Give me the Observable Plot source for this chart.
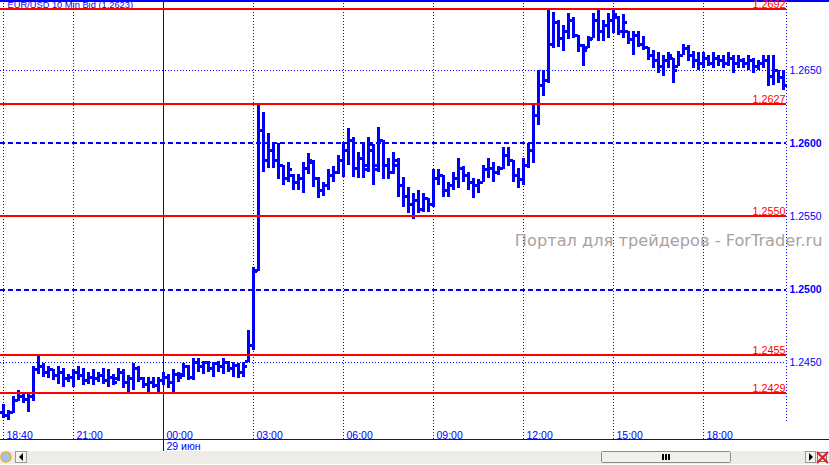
<!DOCTYPE html>
<html>
<head>
<meta charset="utf-8">
<script src="https://cdn.jsdelivr.net/npm/d3@7"></script>
<script src="https://cdn.jsdelivr.net/npm/@observablehq/plot@0.6"></script>
<style>
  html, body { margin: 0; padding: 0; background: #fff; }
  #chart svg { display: block; }
</style>
</head>
<body>
<div id="chart"></div>
<script>
// EUR/USD, 10-minute bid bars, 28 Jun 2012 18:40 UTC onwards
const firstBar = "2012-06-28T18:40:00Z";
const barMinutes = 10;

const open = [
  1.2416, 1.2414, 1.2416, 1.2424, 1.2427, 1.2425, 1.2427, 1.2445, 1.2447, 1.2443,
  1.2445, 1.2441, 1.2443, 1.2439, 1.2440, 1.2443, 1.2441, 1.2438, 1.2440, 1.2439,
  1.2441, 1.2438, 1.2440, 1.2439, 1.2443, 1.2436, 1.2439, 1.2446, 1.2439, 1.2435,
  1.2436, 1.2434, 1.2438, 1.2440, 1.2436, 1.2442, 1.2442, 1.2447, 1.2440, 1.2450,
  1.2447, 1.2450, 1.2446, 1.2449, 1.2447, 1.2450, 1.2446, 1.2448, 1.2443, 1.2451,
  1.2462, 1.2513, 1.2609, 1.2588, 1.2595, 1.2588, 1.2585, 1.2576, 1.2578, 1.2573,
  1.2576, 1.2583, 1.2587, 1.2576, 1.2568, 1.2571, 1.2578, 1.2580, 1.2588, 1.2595,
  1.2602, 1.2583, 1.2590, 1.2585, 1.2595, 1.2585, 1.2602, 1.2585, 1.2580, 1.2585,
  1.2571, 1.2564, 1.2558, 1.2561, 1.2555, 1.2562, 1.2558, 1.2576, 1.2578, 1.2568,
  1.2571, 1.2576, 1.2583, 1.2578, 1.2573, 1.2571, 1.2573, 1.2582, 1.2583, 1.2580,
  1.2583, 1.2592, 1.2588, 1.2578, 1.2575, 1.2585, 1.2595, 1.2619, 1.2640, 1.2643,
  1.2668, 1.2683, 1.2672, 1.2677, 1.2684, 1.2674, 1.2667, 1.2666, 1.2672, 1.2684,
  1.2677, 1.2681, 1.2684, 1.2686, 1.2677, 1.2677, 1.2671, 1.2674, 1.2668, 1.2666,
  1.2660, 1.2657, 1.2653, 1.2657, 1.2658, 1.2653, 1.2660, 1.2665, 1.2660, 1.2657,
  1.2655, 1.2658, 1.2655, 1.2658, 1.2657, 1.2655, 1.2658, 1.2655, 1.2657, 1.2655,
  1.2657, 1.2653, 1.2655, 1.2657, 1.2646, 1.2650, 1.2645
];
const high = [
  1.2421, 1.2417, 1.2427, 1.2431, 1.2429, 1.2429, 1.2447, 1.2455, 1.2449, 1.2447,
  1.2445, 1.2447, 1.2446, 1.2442, 1.2445, 1.2447, 1.2446, 1.2443, 1.2445, 1.2443,
  1.2446, 1.2445, 1.2442, 1.2446, 1.2445, 1.2441, 1.2449, 1.2447, 1.2440, 1.2440,
  1.2440, 1.2440, 1.2443, 1.2442, 1.2445, 1.2443, 1.2449, 1.2448, 1.2453, 1.2453,
  1.2451, 1.2451, 1.2450, 1.2451, 1.2453, 1.2451, 1.2450, 1.2449, 1.2450, 1.2472,
  1.2515, 1.2627, 1.2621, 1.2607, 1.2600, 1.2600, 1.2585, 1.2587, 1.2579, 1.2579,
  1.2587, 1.2593, 1.2588, 1.2577, 1.2573, 1.2582, 1.2584, 1.2592, 1.2601, 1.2610,
  1.2604, 1.2594, 1.2599, 1.2604, 1.2599, 1.2611, 1.2602, 1.2590, 1.2594, 1.2590,
  1.2577, 1.2570, 1.2566, 1.2568, 1.2566, 1.2562, 1.2582, 1.2582, 1.2578, 1.2573,
  1.2580, 1.2590, 1.2584, 1.2580, 1.2576, 1.2575, 1.2585, 1.2590, 1.2587, 1.2584,
  1.2597, 1.2597, 1.2588, 1.2583, 1.2590, 1.2600, 1.2626, 1.2650, 1.2650, 1.2691,
  1.2690, 1.2684, 1.2681, 1.2689, 1.2686, 1.2674, 1.2668, 1.2673, 1.2689, 1.2691,
  1.2684, 1.2689, 1.2692, 1.2687, 1.2688, 1.2677, 1.2677, 1.2677, 1.2673, 1.2666,
  1.2664, 1.2662, 1.2660, 1.2662, 1.2658, 1.2663, 1.2668, 1.2667, 1.2663, 1.2662,
  1.2662, 1.2660, 1.2662, 1.2660, 1.2660, 1.2662, 1.2660, 1.2660, 1.2658, 1.2660,
  1.2658, 1.2657, 1.2660, 1.2660, 1.2660, 1.2650, 1.2650
];
const low = [
  1.2412, 1.2410, 1.2415, 1.2423, 1.2422, 1.2416, 1.2423, 1.2442, 1.2440, 1.2439,
  1.2438, 1.2435, 1.2433, 1.2436, 1.2433, 1.2438, 1.2434, 1.2435, 1.2434, 1.2436,
  1.2435, 1.2433, 1.2434, 1.2437, 1.2432, 1.2429, 1.2431, 1.2436, 1.2432, 1.2429,
  1.2432, 1.2429, 1.2434, 1.2432, 1.2429, 1.2436, 1.2440, 1.2438, 1.2438, 1.2443,
  1.2442, 1.2443, 1.2440, 1.2443, 1.2442, 1.2443, 1.2440, 1.2439, 1.2440, 1.2450,
  1.2458, 1.2512, 1.2580, 1.2583, 1.2583, 1.2575, 1.2571, 1.2573, 1.2568, 1.2568,
  1.2566, 1.2579, 1.2570, 1.2562, 1.2564, 1.2568, 1.2573, 1.2579, 1.2577, 1.2585,
  1.2577, 1.2576, 1.2576, 1.2580, 1.2571, 1.2580, 1.2575, 1.2575, 1.2579, 1.2563,
  1.2556, 1.2552, 1.2548, 1.2552, 1.2553, 1.2553, 1.2556, 1.2571, 1.2563, 1.2563,
  1.2568, 1.2569, 1.2573, 1.2568, 1.2562, 1.2566, 1.2573, 1.2576, 1.2573, 1.2578,
  1.2582, 1.2584, 1.2573, 1.2569, 1.2571, 1.2583, 1.2586, 1.2612, 1.2632, 1.2641,
  1.2665, 1.2666, 1.2663, 1.2671, 1.2672, 1.2662, 1.2653, 1.2665, 1.2672, 1.2670,
  1.2670, 1.2672, 1.2675, 1.2674, 1.2672, 1.2668, 1.2660, 1.2666, 1.2664, 1.2657,
  1.2651, 1.2648, 1.2646, 1.2651, 1.2641, 1.2653, 1.2660, 1.2656, 1.2651, 1.2650,
  1.2651, 1.2653, 1.2651, 1.2653, 1.2651, 1.2653, 1.2648, 1.2651, 1.2651, 1.2650,
  1.2648, 1.2650, 1.2651, 1.2639, 1.2640, 1.2641, 1.2636
];
const close = [
  1.2414, 1.2416, 1.2424, 1.2427, 1.2425, 1.2427, 1.2445, 1.2447, 1.2443, 1.2445,
  1.2441, 1.2443, 1.2439, 1.2440, 1.2443, 1.2441, 1.2438, 1.2440, 1.2439, 1.2441,
  1.2438, 1.2440, 1.2436, 1.2443, 1.2436, 1.2439, 1.2446, 1.2439, 1.2435, 1.2436,
  1.2434, 1.2438, 1.2440, 1.2436, 1.2442, 1.2440, 1.2447, 1.2440, 1.2450, 1.2447,
  1.2450, 1.2446, 1.2449, 1.2447, 1.2450, 1.2446, 1.2448, 1.2443, 1.2447, 1.2462,
  1.2512, 1.2609, 1.2588, 1.2595, 1.2588, 1.2585, 1.2576, 1.2582, 1.2573, 1.2576,
  1.2583, 1.2588, 1.2576, 1.2568, 1.2571, 1.2578, 1.2580, 1.2588, 1.2595, 1.2602,
  1.2583, 1.2590, 1.2582, 1.2599, 1.2582, 1.2602, 1.2585, 1.2580, 1.2588, 1.2571,
  1.2564, 1.2558, 1.2561, 1.2555, 1.2562, 1.2558, 1.2576, 1.2578, 1.2568, 1.2571,
  1.2576, 1.2583, 1.2578, 1.2573, 1.2571, 1.2573, 1.2582, 1.2583, 1.2580, 1.2583,
  1.2592, 1.2588, 1.2578, 1.2575, 1.2585, 1.2595, 1.2619, 1.2640, 1.2643, 1.2668,
  1.2683, 1.2672, 1.2677, 1.2684, 1.2674, 1.2667, 1.2664, 1.2671, 1.2684, 1.2677,
  1.2681, 1.2684, 1.2688, 1.2677, 1.2683, 1.2671, 1.2674, 1.2668, 1.2666, 1.2660,
  1.2657, 1.2653, 1.2657, 1.2660, 1.2650, 1.2660, 1.2665, 1.2660, 1.2657, 1.2655,
  1.2658, 1.2655, 1.2658, 1.2657, 1.2655, 1.2658, 1.2655, 1.2657, 1.2655, 1.2657,
  1.2653, 1.2655, 1.2657, 1.2646, 1.2650, 1.2645, 1.2640
];

// Horizontal support / resistance levels (red)
const levels = [1.2692, 1.2627, 1.2550, 1.2455, 1.2429];
// Price scale labels; the round figures are drawn dashed and bold
const priceTicks = [1.2650, 1.2550, 1.2450];
const roundTicks = [1.2600, 1.2500];
// Time scale
const timeTicks = [
  "2012-06-28T18:40:00Z", "2012-06-28T21:00:00Z", "2012-06-29T03:00:00Z",
  "2012-06-29T06:00:00Z", "2012-06-29T09:00:00Z", "2012-06-29T12:00:00Z",
  "2012-06-29T15:00:00Z", "2012-06-29T18:00:00Z"
];
const timeLabels = ["18:40", "21:00", "03:00", "06:00", "09:00", "12:00", "15:00", "18:00"];
const dayStart = "2012-06-29T00:00:00Z";
const dayLabel = "29 июн";
const dayStartLabel = "00:00";
const title = "EUR/USD 10 Min Bid (1.2623)";
const watermark = "Портал для трейдеров - ForTrader.ru";

const BLUE = "#0000ff";
const RED = "#ff0000";
const FONT = "'Liberation Sans', Arial, sans-serif";

const minute = 60 * 1000;
const t0 = new Date(firstBar).getTime();
const bars = open.map((o, i) => ({
  t: new Date(t0 + i * barMinutes * minute),
  open: o, high: high[i], low: low[i], close: close[i]
}));
const shift = (d, m) => new Date(d.getTime() + m * minute);

const xDomain = [new Date("2012-06-28T18:34:00Z"), new Date("2012-06-29T20:46:00Z")];
const yDomain = [1.23973, 1.26979];

const ticks = timeTicks.map((t, i) => ({t: new Date(t), label: timeLabels[i]}));

const chart = Plot.plot({
  width: 829,
  height: 465,
  marginTop: 0,
  marginLeft: 0,
  marginRight: 43,
  marginBottom: 26,
  style: {fontFamily: FONT, background: "#fff", overflow: "hidden"},
  x: {type: "utc", domain: xDomain, axis: null},
  y: {domain: yDomain, axis: null},
  marks: [
    // dotted grid
    Plot.ruleX(ticks, {x: "t", stroke: BLUE, strokeWidth: 1, strokeDasharray: "1,2"}),
    Plot.ruleX([xDomain[1]], {stroke: BLUE, strokeDasharray: "1,2", insetBottom: 16}),
    Plot.ruleY(priceTicks, {stroke: BLUE, strokeDasharray: "1,2"}),
    Plot.ruleY(roundTicks, {stroke: BLUE, strokeWidth: 2, strokeDasharray: "5,3"}),
    // day separator
    Plot.ruleX([new Date(dayStart)], {stroke: BLUE, strokeWidth: 1, insetBottom: -16}),
    // frame lines
    Plot.ruleY([yDomain[1]], {stroke: BLUE, strokeWidth: 2, dy: 0.5, insetRight: -43}),
    Plot.ruleY([yDomain[0]], {stroke: BLUE, strokeWidth: 1, insetRight: -43}),

    // title
    Plot.text([title], {frameAnchor: "top-left", textAnchor: "start", lineAnchor: "top",
      dx: 7, dy: 1, fill: BLUE, fontSize: 9.3}),

    // OHLC bars
    Plot.ruleX(bars, {x: "t", y1: "low", y2: "high", stroke: BLUE, strokeWidth: 3}),
    Plot.ruleY(bars, {y: "open", x1: d => shift(d.t, -7), x2: "t", stroke: BLUE, strokeWidth: 3}),
    Plot.ruleY(bars, {y: "close", x1: "t", x2: d => shift(d.t, 7), stroke: BLUE, strokeWidth: 3}),

    // red levels with their labels
    Plot.ruleY(levels, {stroke: RED, strokeWidth: 2}),
    Plot.text(levels, {y: d => d, text: d => d.toFixed(4), frameAnchor: "right",
      textAnchor: "end", lineAnchor: "bottom", dx: -1, dy: -1, fill: RED, fontSize: 10.8}),

    // price scale
    Plot.text(priceTicks, {y: d => d, text: d => d.toFixed(4), frameAnchor: "right",
      textAnchor: "start", lineAnchor: "middle", dx: 3, fill: BLUE, fontSize: 10.5}),
    Plot.text(roundTicks, {y: d => d, text: d => d.toFixed(4), frameAnchor: "right",
      textAnchor: "start", lineAnchor: "middle", dx: 3, fill: BLUE, fontSize: 10.5, fontWeight: "bold"}),

    // time scale
    Plot.text(ticks, {x: "t", text: "label", frameAnchor: "bottom", textAnchor: "start",
      lineAnchor: "bottom", dx: 3, dy: -1, fill: BLUE, fontSize: 10.5}),
    Plot.text([dayStartLabel], {x: () => new Date(dayStart), frameAnchor: "bottom", textAnchor: "start",
      lineAnchor: "bottom", dx: 3, dy: -1, fill: BLUE, fontSize: 10.5}),
    Plot.text([dayLabel], {x: () => new Date(dayStart), frameAnchor: "bottom", textAnchor: "start",
      lineAnchor: "top", dx: 3, dy: 3, fill: BLUE, fontSize: 10.5}),

    // watermark
    Plot.text([watermark], {frameAnchor: "top-right", textAnchor: "end", lineAnchor: "top",
      dx: 36, dy: 234, fill: "#a9a1a1", fontSize: 16.2, fontFamily: "'DejaVu Sans', Verdana, sans-serif"})
  ]
});

document.getElementById("chart").append(chart);

// horizontal scroll bar under the chart
const svg = d3.select(chart);
svg.selectAll("line, rect").attr("shape-rendering", "crispEdges");
const sb = svg.append("g").attr("class", "scrollbar");
sb.append("rect").attr("x", 0).attr("y", 451).attr("width", 829).attr("height", 13).attr("fill", "#edece6");
// globe icon
sb.append("circle").attr("cx", 6).attr("cy", 457).attr("r", 5)
  .attr("fill", "#9cc4ec").attr("stroke", "#f0a830").attr("stroke-width", 1.5);
// left arrow button
sb.append("rect").attr("x", 15.5).attr("y", 451.5).attr("width", 11).attr("height", 11)
  .attr("fill", "#f4f3ee").attr("stroke", "#9a9a9a");
sb.append("path").attr("d", "M19,457 L23,453 L23,461 Z").attr("fill", "#000");
// thumb
sb.append("rect").attr("x", 601.5).attr("y", 451.5).attr("width", 129).attr("height", 11)
  .attr("rx", 1).attr("fill", "#f1f0ea").attr("stroke", "#8c8c8c");
[662, 665, 668].forEach(x => sb.append("rect").attr("x", x).attr("y", 454).attr("width", 2).attr("height", 6).attr("fill", "#000"));
// right arrow button
sb.append("rect").attr("x", 805.5).attr("y", 451.5).attr("width", 10).attr("height", 11)
  .attr("fill", "#f4f3ee").attr("stroke", "#9a9a9a");
sb.append("path").attr("d", "M809,453 L813,457 L809,461 Z").attr("fill", "#000");
// close icon
sb.append("rect").attr("x", 817.5).attr("y", 452.5).attr("width", 9).attr("height", 9)
  .attr("fill", "#dfe6ee").attr("stroke", "#6a7a8a");
sb.append("path").attr("d", "M817,452 L828,463 M828,452 L817,463").attr("stroke", "#e02020").attr("stroke-width", 2);
</script>
</body>
</html>
